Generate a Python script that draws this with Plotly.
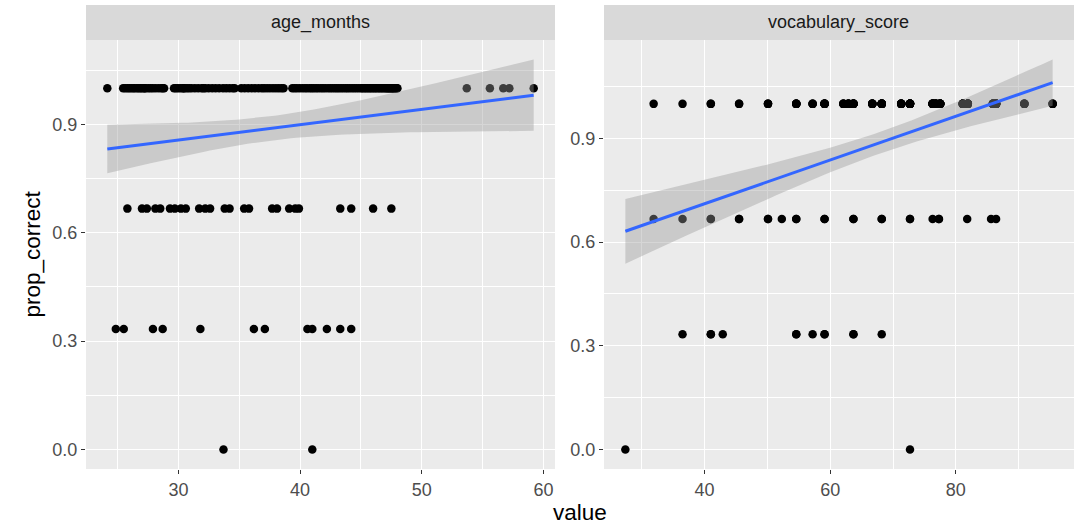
import numpy as np
import plotly.graph_objects as go

# ---------------- data ----------------
prop_levels = [0.0, 1/3, 2/3, 1.0]

age_p0 = [33.7, 41.0]
age_p33 = [24.85, 25.5, 27.9, 28.7, 31.8, 36.2, 37.1, 40.6, 41.0, 42.2, 43.3, 44.2]
age_p67 = [25.8, 27.0, 27.4, 28.1, 28.5, 29.3, 29.7, 30.2, 30.6, 31.7, 32.2, 32.6, 33.8,
           34.2, 35.4, 35.8, 37.7, 38.1, 39.1, 39.6, 39.9, 43.3, 44.2, 46.0, 47.5]
age_p100 = [24.15,
            25.45, 25.62, 25.80, 25.95, 26.11, 26.27, 26.40, 26.58, 26.72, 26.86, 26.98,
            27.13, 27.22, 27.31, 27.52, 27.70, 27.88, 28.09, 28.33, 28.56, 28.70, 28.82,
            29.63, 29.78, 29.95, 30.14, 30.33, 30.42, 30.51, 30.70, 30.88,
            31.08, 31.35, 31.62, 31.90, 32.05, 32.21, 32.48, 32.77,
            33.05, 33.34, 33.66, 33.92, 34.19, 34.45, 34.62,
            35.16, 35.44, 35.73, 36.02, 36.29, 36.58, 36.85,
            37.05, 37.28, 37.52, 37.77, 38.01, 38.24, 38.46, 38.64,
            39.36, 39.55, 39.74, 39.96, 40.18, 40.39, 40.57, 40.78, 40.95,
            41.12, 41.31, 41.49, 41.70, 41.88, 42.07, 42.29, 42.48, 42.66, 42.85,
            43.02, 43.19, 43.37, 43.55, 43.74, 43.90, 44.08, 44.27, 44.45, 44.63, 44.82,
            45.01, 45.12, 45.26, 45.39, 45.52, 45.66, 45.78, 45.91, 46.05, 46.17, 46.30,
            46.44, 46.56, 46.69, 46.81, 46.94,
            47.06, 47.15, 47.24, 47.33, 47.41, 47.50, 47.58, 47.66, 47.73, 47.81, 47.88,
            47.94, 48.00,
            53.7, 55.6, 56.7, 57.2, 59.2]

vocab_p0 = [27.4, 72.7]
vocab_p33 = [36.5, 41.0, 41.0, 42.9, 54.6, 54.6, 57.2, 59.1, 59.1, 63.7, 63.7, 68.2]
vocab_p67 = [31.9, 36.5, 41.0, 41.0, 45.5, 45.5, 50.1, 50.1, 52.3, 54.6, 54.6, 59.1, 59.1,
             63.7, 63.7, 68.2, 68.2, 72.7, 72.7, 76.3, 77.3, 77.3, 81.8, 85.6, 86.4]
vocab_p100_values = [31.9, 36.5, 41.0, 45.5, 50.1, 54.6, 57.2, 59.1, 62.1, 62.9, 63.7, 66.7,
                     68.2, 71.3, 72.7, 76.3, 76.8, 77.5, 81.1, 81.9, 85.9, 86.4, 90.9, 95.4]
vocab_p100_counts = [1, 1, 2, 2, 3, 5, 3, 6, 4, 5, 7, 6,
                     9, 6, 10, 7, 6, 8, 6, 8, 6, 8, 4, 3]

facet_names = ["age_months", "vocabulary_score"]

# ---------------- assemble long data ----------------
def long_xy(groups):
    xs, ys = [], []
    for lvl, vals in zip(prop_levels, groups):
        xs += list(vals)
        ys += [lvl] * len(vals)
    return np.array(xs, float), np.array(ys, float)

vocab_p100 = []
for v, c in zip(vocab_p100_values, vocab_p100_counts):
    vocab_p100 += [v] * c

age_x, age_y = long_xy([age_p0, age_p33, age_p67, age_p100])
voc_x, voc_y = long_xy([vocab_p0, vocab_p33, vocab_p67, vocab_p100])


def fit_band(x, y, n_grid=80):
    n = len(x)
    xb, yb = x.mean(), y.mean()
    sxx = ((x - xb) ** 2).sum()
    b = ((x - xb) * (y - yb)).sum() / sxx
    a = yb - b * xb
    resid = y - (a + b * x)
    s = np.sqrt((resid ** 2).sum() / (n - 2))
    df = n - 2
    z = 1.959963985
    t = z + (z ** 3 + z) / (4 * df) + (5 * z ** 5 + 16 * z ** 3 + 3 * z) / (96 * df ** 2)
    gx = np.linspace(x.min(), x.max(), n_grid)
    gy = a + b * gx
    se = s * np.sqrt(1 / n + (gx - xb) ** 2 / sxx)
    return gx, gy, gy - t * se, gy + t * se


def expand(lo, hi, mult=0.05):
    span = hi - lo
    return [lo - mult * span, hi + mult * span]

# ---------------- figure ----------------
W, H = 1082, 526
FONT = "Liberation Sans, Arial, Helvetica, sans-serif"
TICK_SIZE = 18
STRIP_SIZE = 18
TITLE_SIZE = 22.5
panel_px = [(86, 555), (604, 1074)]
panel_top, panel_bot = 40, 469
strip_top = 5
ydom = [(H - panel_bot) / H, (H - panel_top) / H]

fig = go.Figure()
layout_axes = {}
shapes, annotations = [], []

datasets = [(age_x, age_y, 10, 5), (voc_x, voc_y, 20, 10)]
for i, ((x, y, dmaj, dmin), name) in enumerate(zip(datasets, facet_names)):
    xa = "x" if i == 0 else "x2"
    ya = "y" if i == 0 else "y2"
    gx, gy, lo, hi = fit_band(x, y)

    fig.add_trace(go.Scatter(x=x, y=y, mode="markers", xaxis=xa, yaxis=ya,
                             marker=dict(color="black", size=8.5, line=dict(width=0)),
                             showlegend=False, hoverinfo="skip"))
    fig.add_trace(go.Scatter(x=np.concatenate([gx, gx[::-1]]),
                             y=np.concatenate([hi, lo[::-1]]),
                             mode="lines", fill="toself", xaxis=xa, yaxis=ya,
                             fillcolor="rgba(153,153,153,0.4)", line=dict(width=0),
                             showlegend=False, hoverinfo="skip"))
    fig.add_trace(go.Scatter(x=gx, y=gy, mode="lines", xaxis=xa, yaxis=ya,
                             line=dict(color="#3366FF", width=3),
                             showlegend=False, hoverinfo="skip"))

    xr = expand(x.min(), x.max())
    yr = expand(min(y.min(), lo.min()), max(y.max(), hi.max()))
    x0p, x1p = panel_px[i]
    xdom = [x0p / W, x1p / W]
    key = "" if i == 0 else "2"
    layout_axes["xaxis" + key] = dict(
        domain=xdom, range=xr, anchor=ya, tick0=0, dtick=dmaj,
        showgrid=True, gridcolor="white", gridwidth=1.1, zeroline=False,
        minor=dict(tick0=0, dtick=dmin, showgrid=True, gridcolor="white", gridwidth=0.5),
        ticks="outside", ticklen=4, tickwidth=1, tickcolor="#333333",
        tickfont=dict(family=FONT, size=TICK_SIZE, color="#4D4D4D"), showline=False)
    layout_axes["yaxis" + key] = dict(
        domain=ydom, range=yr, anchor=xa, tick0=0, dtick=0.3, tickformat=".1f",
        showgrid=True, gridcolor="white", gridwidth=1.1, zeroline=False,
        minor=dict(tick0=0, dtick=0.15, showgrid=True, gridcolor="white", gridwidth=0.5),
        ticks="outside", ticklen=4, tickwidth=1, tickcolor="#333333",
        tickfont=dict(family=FONT, size=TICK_SIZE, color="#4D4D4D"), showline=False)

    shapes.append(dict(type="rect", xref="paper", yref="paper",
                       x0=xdom[0], x1=xdom[1], y0=ydom[1], y1=(H - strip_top) / H,
                       fillcolor="#D9D9D9", line=dict(width=0), layer="below"))
    annotations.append(dict(text=name, xref="paper", yref="paper",
                            x=(xdom[0] + xdom[1]) / 2, y=(H - (strip_top + panel_top) / 2) / H,
                            showarrow=False, xanchor="center", yanchor="middle",
                            font=dict(family=FONT, size=STRIP_SIZE, color="#1A1A1A")))

annotations.append(dict(text="value", xref="paper", yref="paper",
                        x=(panel_px[0][0] + panel_px[1][1]) / 2 / W, y=(H - 512) / H,
                        showarrow=False, xanchor="center", yanchor="middle",
                        font=dict(family=FONT, size=TITLE_SIZE, color="black")))
annotations.append(dict(text="prop_correct", xref="paper", yref="paper",
                        x=32 / W, y=(H - (panel_top + panel_bot) / 2) / H, textangle=-90,
                        showarrow=False, xanchor="center", yanchor="middle",
                        font=dict(family=FONT, size=TITLE_SIZE, color="black")))

fig.update_layout(width=W, height=H, margin=dict(l=0, r=0, t=0, b=0),
                  paper_bgcolor="white", plot_bgcolor="#EBEBEB",
                  shapes=shapes, annotations=annotations, showlegend=False,
                  font=dict(family=FONT), **layout_axes)

fig.write_html("out.html")
